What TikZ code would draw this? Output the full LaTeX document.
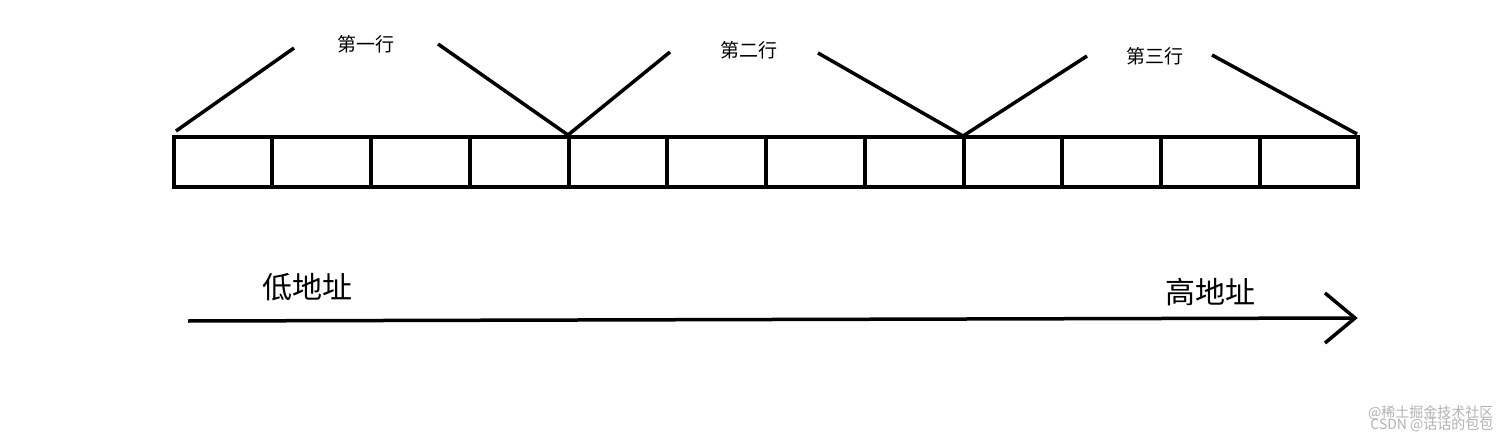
\documentclass[tikz,border=0pt]{standalone}
\usepackage{fontspec}
\setmainfont{Noto Sans CJK SC}
\begin{document}
\begin{tikzpicture}[x=1pt,y=-1pt,
  ln/.style={line width=3.5pt},
  sm/.style={font=\fontsize{19}{19}\selectfont},
  bg/.style={font=\fontsize{30}{30}\selectfont},
  wm/.style={font=\fontsize{14}{14}\selectfont,text=gray!60}]
\useasboundingbox[fill=white] (0,0) rectangle (1512,441);
\foreach \a/\b [count=\i] in {174/272,272/371,371/470,470/569,569/667,667/766,766/865,865/964,964/1062,1062/1161,1161/1260,1260/1358}
  \draw[ln] (\a,137) rectangle (\b,187) node[pos=0.5](c\i){};
\coordinate (p0) at (176,131); \coordinate (p1) at (568,135);
\coordinate (p2) at (963,136); \coordinate (p3) at (1357,134);
\node[sm] (l1) at (366,44) {第一行};
\node[sm] (l2) at (749,50) {第二行};
\node[sm] (l3) at (1155,56) {第三行};
\draw[ln] (p0) -- (294,48); \draw[ln] (438,44) -- (p1);
\draw[ln] (p1) -- (670,52); \draw[ln] (818,53) -- (p2);
\draw[ln] (p2) -- (1087,56); \draw[ln] (1212,55) -- (p3);
\coordinate (as) at (188,321); \coordinate (ae) at (1355,318);
\draw[ln] (as) -- (ae);
\draw[ln,line join=miter] (1325,293) -- (ae) -- (1325,343);
\node[bg] (lo) at (307,287) {低地址};
\node[bg] (hi) at (1210,292) {高地址};
\node[wm,anchor=east] (w1) at (1497,413) {@稀土掘金技术社区};
\node[wm,anchor=east] (w2) at (1497,425) {CSDN @话话的包包};
\end{tikzpicture}
\end{document}
